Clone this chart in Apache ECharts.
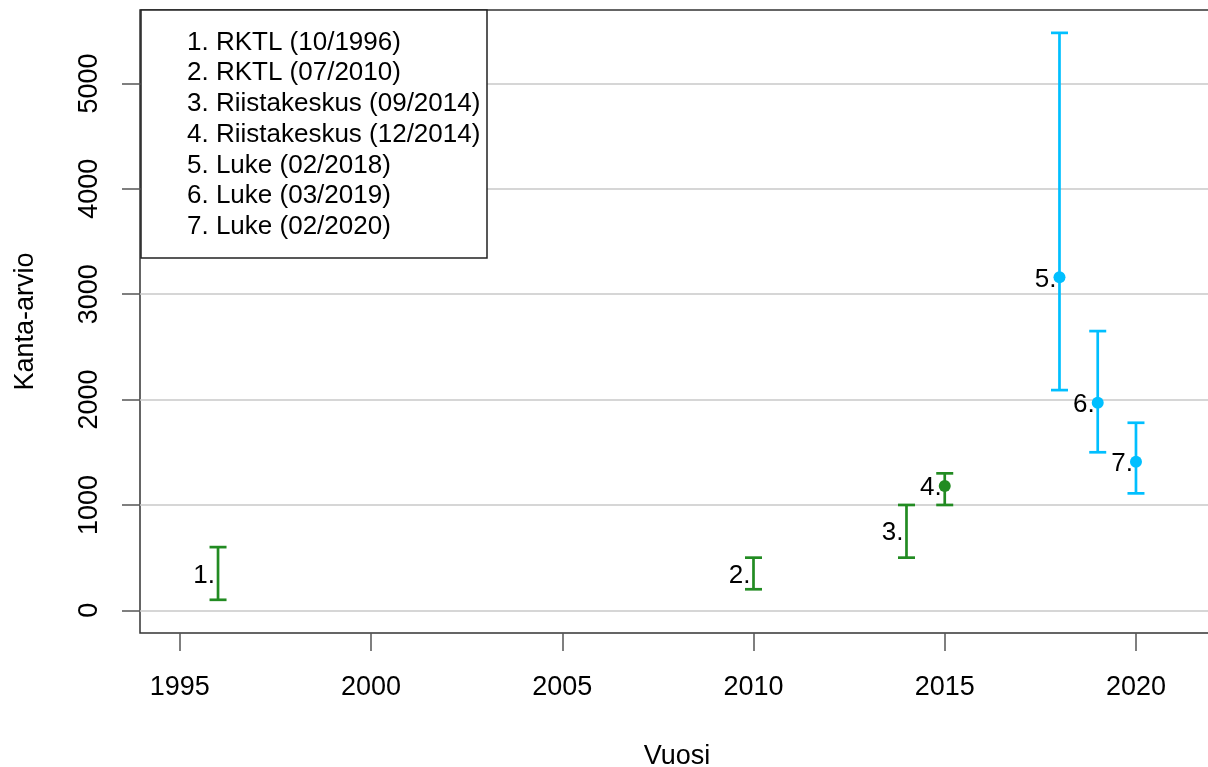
<!DOCTYPE html>
<html>
<head>
<meta charset="utf-8">
<script src="https://cdn.jsdelivr.net/npm/echarts@6/dist/echarts.min.js"></script>
<style>
html,body{margin:0;padding:0;background:#fff;}
#chart{width:1208px;height:767px;}
</style>
</head>
<body>
<div id="chart"></div>
<script>
// ---- data ----
const years    = [1996, 2010, 2014, 2015, 2018, 2019, 2020];
const lower    = [100, 200, 500, 1000, 2090, 1500, 1110];
const upper    = [600, 500, 1000, 1300, 5480, 2650, 1780];
const estimate = [null, null, null, 1180, 3160, 1970, 1410];
const pointLabels = ['1.', '2.', '3.', '4.', '5.', '6.', '7.'];
const source   = ['RKTL', 'RKTL', 'Riistakeskus', 'Riistakeskus', 'Luke', 'Luke', 'Luke'];
const legendItems = [
  '1. RKTL (10/1996)',
  '2. RKTL (07/2010)',
  '3. Riistakeskus (09/2014)',
  '4. Riistakeskus (12/2014)',
  '5. Luke (02/2018)',
  '6. Luke (03/2019)',
  '7. Luke (02/2020)'
];
const xTicks = [1995, 2000, 2005, 2010, 2015, 2020];
const yTicks = [0, 1000, 2000, 3000, 4000, 5000];
const xTitle = 'Vuosi';
const yTitle = 'Kanta-arvio';

// ---- styles ----
const sourceColor = { 'RKTL': '#228B22', 'Riistakeskus': '#228B22', 'Luke': '#00BFFF' };
const FONT = 'Liberation Sans, Arial, sans-serif';
const FS = 26;
const AFS = 27;

const barData = years.map((y, i) => [y, lower[i], upper[i], estimate[i] == null ? '-' : estimate[i], i]);
const pointData = [];
years.forEach((y, i) => { if (estimate[i] != null) pointData.push({ value: [y, estimate[i]], itemStyle: { color: sourceColor[source[i]], opacity: 1 } }); });

const chart = echarts.init(document.getElementById('chart'), null, { renderer: 'canvas' });

const option = {
  animation: false,
  backgroundColor: '#fff',
  grid: {
    left: 140, right: -6, top: 10, bottom: 134,
    outerBoundsMode: 'none', containLabel: false,
    show: true, borderColor: '#333', borderWidth: 1.5, backgroundColor: 'transparent'
  },
  xAxis: {
    type: 'value', min: 1993.96, max: 2022.04,
    axisLine: { show: false, onZero: false },
    axisTick: { show: true, inside: false, length: 18, customValues: xTicks, lineStyle: { color: '#555', width: 1.5 } },
    axisLabel: { customValues: xTicks, margin: 41, fontSize: AFS, color: '#000', fontFamily: FONT, formatter: v => String(v) },
    splitLine: { show: false },
    name: xTitle, nameLocation: 'middle', nameGap: 110,
    nameTextStyle: { fontSize: AFS, color: '#000', fontFamily: FONT }
  },
  yAxis: {
    type: 'value', min: -215, max: 5697,
    axisLine: { show: false, onZero: false },
    axisTick: { show: true, inside: false, length: 18, customValues: yTicks, lineStyle: { color: '#555', width: 1.5 } },
    axisLabel: { customValues: yTicks, rotate: 90, margin: 37, fontSize: AFS, color: '#000', fontFamily: FONT, formatter: v => String(v) },
    splitLine: { show: true, lineStyle: { color: '#c8c8c8', width: 1.5 } },
    name: yTitle, nameLocation: 'middle', nameGap: 101, nameRotate: 90,
    nameTextStyle: { fontSize: AFS, color: '#000', fontFamily: FONT }
  },
  graphic: [
    {
      type: 'rect', z: 100,
      shape: { x: 141, y: 10, width: 346, height: 248 },
      style: { fill: '#fff', stroke: '#222', lineWidth: 1.5 }
    },
    {
      type: 'text', z: 101,
      x: 187, y: 27,
      style: {
        text: legendItems.join('\n'),
        font: FS + 'px ' + FONT,
        lineHeight: 30.75,
        fill: '#000',
        align: 'left', verticalAlign: 'top'
      }
    }
  ],
  series: [
    {
      type: 'custom',
      data: barData,
      clip: false,
      z: 3,
      renderItem: function (params, api) {
        const x = api.value(0), lo = api.value(1), hi = api.value(2), est = api.value(3), idx = api.value(4);
        const color = sourceColor[source[idx]];
        const pLo = api.coord([x, lo]);
        const pHi = api.coord([x, hi]);
        const mid = isNaN(est) ? (lo + hi) / 2 : est;
        const pM = api.coord([x, mid]);
        const cap = 8.5;
        const ls = { stroke: color, lineWidth: 2.7 };
        return {
          type: 'group',
          children: [
            { type: 'line', shape: { x1: pLo[0], y1: pLo[1], x2: pHi[0], y2: pHi[1] }, style: ls },
            { type: 'line', shape: { x1: pHi[0] - cap, y1: pHi[1], x2: pHi[0] + cap, y2: pHi[1] }, style: ls },
            { type: 'line', shape: { x1: pLo[0] - cap, y1: pLo[1], x2: pLo[0] + cap, y2: pLo[1] }, style: ls },
            { type: 'text', x: pM[0] - 3, y: pM[1] + 2,
              style: { text: pointLabels[idx], font: FS + 'px ' + FONT, fill: '#000', align: 'right', verticalAlign: 'middle' } }
          ]
        };
      }
    },
    {
      type: 'scatter',
      data: pointData,
      symbol: 'circle',
      symbolSize: 12,
      z: 4
    }
  ]
};
chart.setOption(option);
</script>
</body>
</html>
